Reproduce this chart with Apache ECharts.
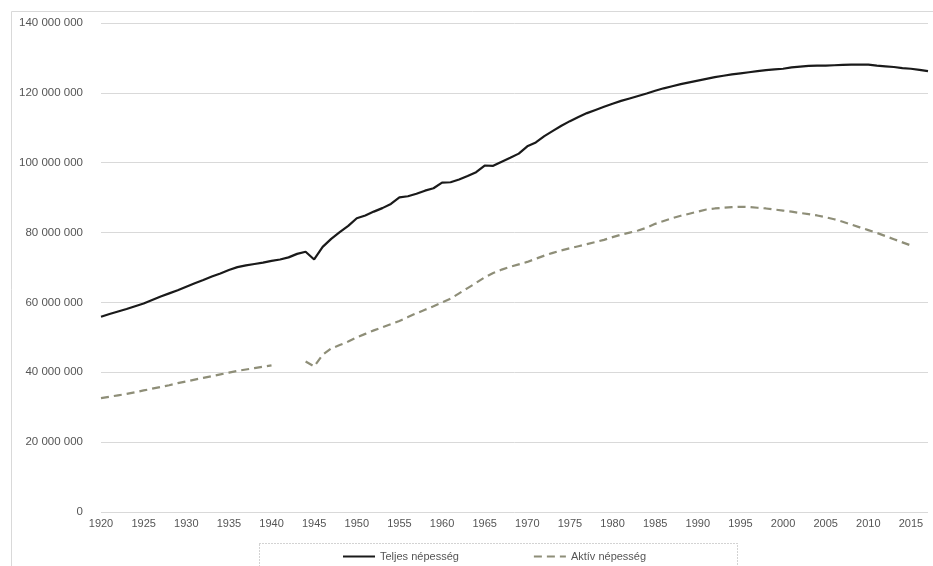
<!DOCTYPE html>
<html>
<head>
<meta charset="utf-8">
<script src="https://cdn.jsdelivr.net/npm/echarts@6/dist/echarts.min.js"></script>
<style>
html,body{margin:0;padding:0;background:#fff;}
#chart{width:933px;height:566px;}
</style>
</head>
<body>
<div id="chart"></div>
<script>
// Years 1920..2017
var years = [];
for (var y = 1920; y <= 2017; y++) { years.push(String(y)); }

// Teljes népesség (millions), 1920..2017
var teljesM = [
  55.9, 56.7, 57.4, 58.1, 58.9, 59.7, 60.7, 61.7, 62.6, 63.5,
  64.5, 65.5, 66.4, 67.4, 68.3, 69.3, 70.1, 70.6, 71.0, 71.4,
  71.9, 72.3, 72.9, 73.9, 74.5, 72.3, 75.9, 78.2, 80.1, 81.9,
  84.1, 84.9, 86.0, 87.0, 88.2, 90.1, 90.4, 91.1, 92.0, 92.7,
  94.3, 94.4, 95.2, 96.2, 97.3, 99.2, 99.1, 100.3, 101.4, 102.6,
  104.7, 105.8, 107.6, 109.1, 110.6, 111.9, 113.1, 114.2, 115.1, 116.0,
  116.9, 117.7, 118.4, 119.1, 119.8, 120.6, 121.3, 121.9, 122.5, 123.0,
  123.5, 124.0, 124.5, 124.9, 125.3, 125.6, 125.9, 126.2, 126.5, 126.7,
  126.9, 127.3, 127.5, 127.7, 127.8, 127.8, 127.9, 128.0, 128.1, 128.1,
  128.1, 127.8, 127.6, 127.4, 127.1, 126.9, 126.6, 126.2
];

// Aktív népesség (millions), 1920..2017; null = no data
var aktivM = [
  32.6, 33.0, 33.4, 33.8, 34.3, 34.8, 35.3, 35.8, 36.3, 36.9,
  37.4, 37.9, 38.4, 38.9, 39.4, 39.9, 40.4, 40.8, 41.2, 41.6,
  42.0, null, null, null, 43.1, 41.7, 45.0, 46.8, 47.8, 48.8,
  50.0, 51.0, 52.0, 52.9, 53.8, 54.7, 55.8, 56.9, 57.9, 58.9,
  60.0, 61.1, 62.6, 64.1, 65.6, 67.2, 68.4, 69.4, 70.2, 70.9,
  71.6, 72.5, 73.4, 74.2, 74.9, 75.5, 76.1, 76.7, 77.3, 77.9,
  78.7, 79.4, 80.0, 80.6, 81.4, 82.5, 83.3, 84.1, 84.8, 85.4,
  86.0, 86.6, 86.9, 87.1, 87.3, 87.4, 87.3, 87.1, 86.9, 86.6,
  86.3, 86.0, 85.6, 85.3, 84.9, 84.4, 83.8, 83.1, 82.3, 81.5,
  80.7, 79.9, 79.0, 78.1, 77.2, 76.3, null, null
];

var yTicks = [0, 20000000, 40000000, 60000000, 80000000, 100000000, 120000000, 140000000];
var seriesNames = ['Teljes népesség', 'Aktív népesség'];

function toPersons(arr) {
  return arr.map(function (v) { return v === null ? null : Math.round(v * 1000000); });
}
function fmt(v) {
  return String(v).replace(/\B(?=(\d{3})+(?!\d))/g, ' ');
}

var font = 'Liberation Sans';
var chart = echarts.init(document.getElementById('chart'));
chart.setOption({
  animation: false,
  backgroundColor: '#ffffff',
  graphic: [
    { type: 'rect', left: 9, top: 9, silent: true,
      shape: { width: 1000, height: 700 },
      style: { fill: 'none', stroke: '#d9d9d9', lineWidth: 1 } },
    { type: 'rect', left: 257, top: 541, silent: true,
      shape: { width: 478, height: 24 },
      style: { fill: 'none', stroke: '#a6a6a6', lineWidth: 1, lineDash: [1, 2] } }
  ],
  grid: { left: 101, right: 5, top: 23, bottom: 54, containLabel: false },
  xAxis: {
    type: 'category',
    data: years,
    boundaryGap: false,
    axisLine: { show: false },
    axisTick: { show: false },
    axisLabel: { interval: 4, color: '#555555', fontFamily: font, fontSize: 11, margin: 6 },
    splitLine: { show: false }
  },
  yAxis: {
    type: 'value',
    min: yTicks[0],
    max: yTicks[yTicks.length - 1],
    interval: yTicks[1] - yTicks[0],
    axisLine: { show: false },
    axisTick: { show: false },
    axisLabel: { color: '#555555', fontFamily: font, fontSize: 11.5, margin: 18, formatter: fmt },
    splitLine: { lineStyle: { color: '#d9d9d9', width: 1 } }
  },
  legend: {
    data: seriesNames,
    left: 337,
    top: 546,
    itemWidth: 32,
    itemHeight: 12,
    itemGap: 74,
    itemStyle: { opacity: 0 },
    textStyle: { color: '#555555', fontFamily: font, fontSize: 11 }
  },
  series: [
    {
      name: seriesNames[0],
      type: 'line',
      data: toPersons(teljesM),
      symbol: 'none',
      lineStyle: { color: '#1a1a1a', width: 2.2 },
      itemStyle: { color: '#1a1a1a' }
    },
    {
      name: seriesNames[1],
      type: 'line',
      data: toPersons(aktivM),
      symbol: 'none',
      connectNulls: false,
      lineStyle: { color: '#8e8e78', width: 2.2, type: [8, 5] },
      itemStyle: { color: '#8e8e78' }
    }
  ]
});
</script>
</body>
</html>
